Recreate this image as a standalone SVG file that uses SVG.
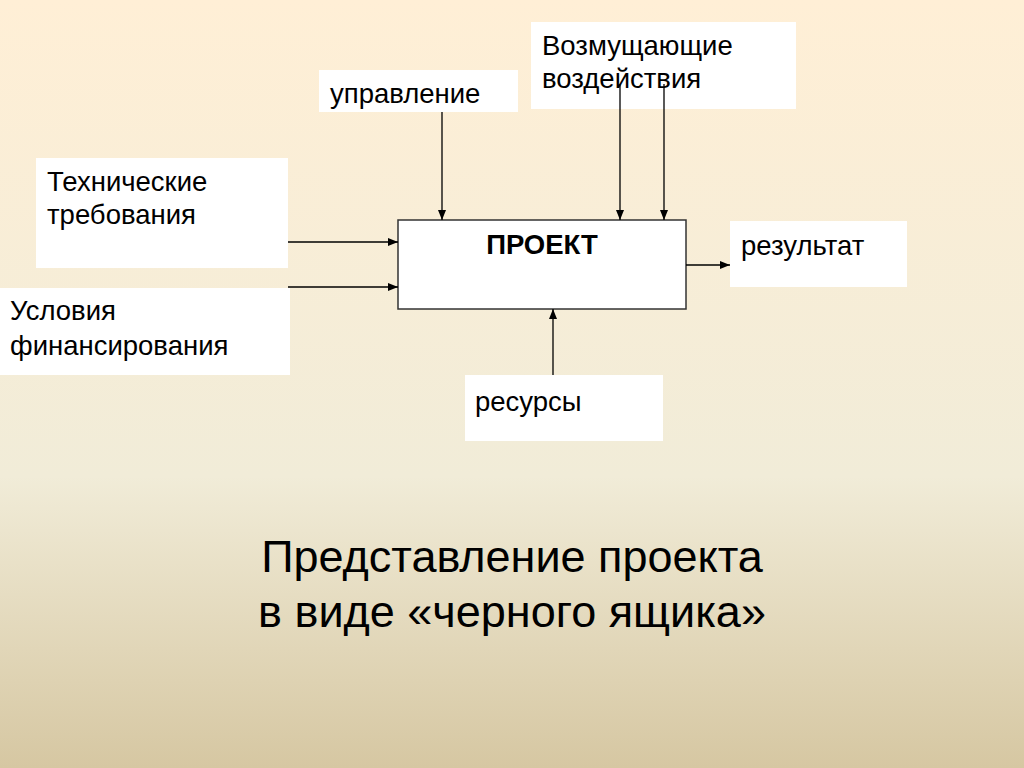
<svg xmlns="http://www.w3.org/2000/svg" width="1024" height="768" viewBox="0 0 1024 768">
<defs>
<linearGradient id="bg" x1="0" y1="0" x2="0" y2="1">
<stop offset="0" stop-color="#FFEFD6"/>
<stop offset="0.62" stop-color="#F1ECD8"/>
<stop offset="1" stop-color="#D6C7A2"/>
</linearGradient>
<marker id="ah" viewBox="0 0 10 10" refX="10" refY="5" markerWidth="10" markerHeight="10" markerUnits="userSpaceOnUse" orient="auto">
<path d="M0,1 L10,5 L0,9 z" fill="#000"/>
</marker>
<style>
.lbl{fill:#fff;stroke:none}
.t{font-family:"Liberation Sans",Arial,sans-serif;font-size:27.5px;fill:#000}
.b{font-weight:bold;text-anchor:middle}
.title{font-family:"Liberation Sans",Arial,sans-serif;font-size:45px;fill:#000;text-anchor:middle}
.c{stroke:#000;stroke-width:1.3;fill:none;marker-end:url(#ah)}
</style>
</defs>
<rect width="1024" height="768" fill="url(#bg)"/>
<g id="tech"><rect class="lbl" x="36" y="158" width="252" height="110"/><text class="t" x="47" y="191">Технические</text><text class="t" x="47" y="224">требования</text></g>
<g id="fin"><rect class="lbl" x="0" y="288" width="290" height="87"/><text class="t" x="10" y="320">Условия</text><text class="t" x="10" y="355">финансирования</text></g>
<g id="upr"><rect class="lbl" x="319" y="70" width="199" height="42"/><text class="t" x="330" y="103">управление</text></g>
<g id="voz"><rect class="lbl" x="531" y="22" width="265" height="87"/><text class="t" x="542" y="55">Возмущающие</text><text class="t" x="542" y="88">воздействия</text></g>
<g id="res"><rect class="lbl" x="730" y="221" width="177" height="66"/><text class="t" x="741" y="255">результат</text></g>
<g id="resurs"><rect class="lbl" x="465" y="375" width="198" height="66"/><text class="t" x="475" y="411">ресурсы</text></g>
<g id="project"><rect x="398" y="220" width="288" height="89" fill="#fff" stroke="#333" stroke-width="1.5"/><text class="t b" x="542" y="254">ПРОЕКТ</text></g>
<g id="connectors">
<line class="c" x1="442" y1="112" x2="442" y2="220"/>
<line class="c" x1="620" y1="84" x2="620" y2="220"/>
<line class="c" x1="664" y1="84" x2="664" y2="220"/>
<line class="c" x1="288" y1="242" x2="398" y2="242"/>
<line class="c" x1="288" y1="287" x2="398" y2="287"/>
<line class="c" x1="686" y1="265" x2="730" y2="265"/>
<line class="c" x1="553" y1="375" x2="553" y2="309"/>
</g>
<g id="title"><text class="title" x="512" y="572">Представление проекта</text><text class="title" x="512" y="627">в виде «черного ящика»</text></g>
</svg>
